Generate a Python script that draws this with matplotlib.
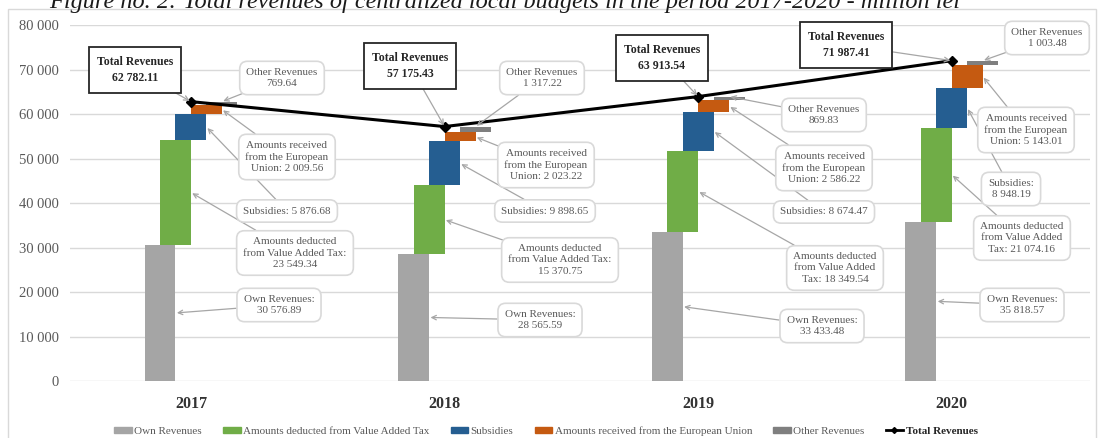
import numpy as np
import matplotlib.pyplot as plt
from matplotlib.patches import Rectangle, Patch
from matplotlib.lines import Line2D

plt.rcParams['font.family'] = ['Liberation Serif', 'DejaVu Serif']

# data (million lei)
years = ['2017', '2018', '2019', '2020']
own = [30576.89, 28565.59, 33433.48, 35818.57]
vat = [23549.34, 15370.75, 18349.54, 21074.16]
subsidies = [5876.68, 9898.65, 8674.47, 8948.19]
eu_funds = [2009.56, 2023.22, 2586.22, 5143.01]
other = [769.64, 1317.22, 869.83, 1003.48]
total = [62782.11, 57175.43, 63913.54, 71987.41]

series_names = ['Own Revenues', 'Amounts deducted from Value Added Tax', 'Subsidies',
                'Amounts received from the European Union', 'Other Revenues']
yticks = [0, 10000, 20000, 30000, 40000, 50000, 60000, 70000, 80000]

# label text templates (line breaks as in the original)
own_fmt = ['Own Revenues:\n{}'] * 4
vat_fmt = ['Amounts deducted\nfrom Value Added Tax:\n{}'] * 2 + ['Amounts deducted\nfrom Value Added\nTax: {}'] * 2
sub_fmt = ['Subsidies: {}'] * 3 + ['Subsidies:\n{}']
eu_fmt = ['Amounts received\nfrom the European\nUnion: {}'] * 4
oth_fmt = ['Other Revenues\n{}'] * 4

# label box centres, pixels from top-left
own_pos = [(279, 305), (540, 320), (822, 326), (1022, 305)]
vat_pos = [(295, 253), (560, 260), (835, 268), (1022, 238)]
sub_pos = [(287, 211), (545, 211), (824, 212), (1011, 189)]
eu_pos = [(287, 157), (546, 165), (824, 168), (1026, 130)]
oth_pos = [(282, 78), (542, 78), (824, 115), (1047, 38)]
tot_pos = [(135, 70), (410, 66), (662, 58), (846, 45)]

colors = ['#a5a5a5', '#70ad47', '#255e91', '#c55a11', '#7f7f7f']
txtcol = '#595959'
W, H = 1101, 438


def fmt(v):
    return f'{v:,.2f}'.replace(',', ' ')


fig = plt.figure(figsize=(W / 100, H / 100), dpi=100)
ax = fig.add_axes([70 / W, (H - 381) / H, 1020 / W, 356 / H])

x = np.arange(len(years))
bw = 0.122
offs = [-bw, -bw / 2, 0, bw / 2, bw]

segs = [own, vat, subsidies, eu_funds, other]
bottoms = np.zeros(len(years))
seg_bot = []
for k, s in enumerate(segs):
    s = np.array(s)
    ax.bar(x + offs[k], s, bw, bottom=bottoms, color=colors[k], zorder=2)
    seg_bot.append(bottoms.copy())
    bottoms = bottoms + s

ax.plot(x, total, color='black', lw=2.2, marker='D', ms=5, zorder=4)

ax.set_xlim(-0.477, 3.545)
ax.set_ylim(0, 80000)
ax.set_yticks(yticks)
ax.set_yticklabels([fmt(v)[:-3] for v in yticks], fontsize=10.5, color=txtcol)
ax.set_xticks(x)
ax.set_xticklabels(years, fontsize=11.5, fontweight='bold', color='#333333')
ax.tick_params(length=0, axis='both')
ax.tick_params(axis='y', pad=8)
ax.tick_params(axis='x', pad=11)
ax.grid(axis='y', color='#d9d9d9', lw=1, zorder=0)
for sp in ax.spines.values():
    sp.set_visible(False)

box = dict(boxstyle='round,pad=0.6,rounding_size=0.7', fc='white', ec='#d9d9d9', lw=1.2)
arr = dict(arrowstyle='->', color='#a6a6a6', lw=0.9, shrinkA=0, shrinkB=1)


def label(txt, xy, pos):
    ax.annotate(txt, xy=xy, xycoords='data', xytext=(pos[0], H - pos[1]),
                textcoords='figure pixels', ha='center', va='center',
                fontsize=8, color=txtcol, linespacing=1.3,
                bbox=box, arrowprops=arr, zorder=5)


for i in range(len(years)):
    for k, (tmpl, pos) in enumerate([(own_fmt, own_pos), (vat_fmt, vat_pos),
                                     (sub_fmt, sub_pos), (eu_fmt, eu_pos)]):
        val = segs[k][i]
        xy = (x[i] + offs[k] + bw / 2, seg_bot[k][i] + val / 2)
        label(tmpl[i].format(fmt(val)), xy, pos[i])
    label(oth_fmt[i].format(fmt(other[i])), (x[i] + offs[4], total[i]), oth_pos[i])
    ax.annotate('Total Revenues\n' + fmt(total[i]), xy=(x[i], total[i]), xycoords='data',
                xytext=(tot_pos[i][0], H - tot_pos[i][1]), textcoords='figure pixels',
                ha='center', va='center', fontsize=8.5, fontweight='bold', color='#262626',
                linespacing=1.5,
                bbox=dict(boxstyle='square,pad=0.7', fc='white', ec='#262626', lw=1.3),
                arrowprops=arr, zorder=5)

# legend
handles = [Patch(color=c) for c in colors]
handles.append(Line2D([], [], color='black', lw=2, marker='D', ms=3))
leg = fig.legend(handles, series_names + ['Total Revenues'], loc='center',
                 bbox_to_anchor=(546 / W, (H - 431) / H), ncol=6, frameon=False,
                 fontsize=8, handlelength=1.6, handleheight=0.5, handletextpad=0.2,
                 columnspacing=1.9)
for t in leg.get_texts():
    t.set_color(txtcol)
leg.get_texts()[-1].set_fontweight('bold')
leg.get_texts()[-1].set_color('#262626')

# chart frame and cropped caption
fig.patches.append(Rectangle((8 / W, -0.01), 1088 / W, (H - 9) / H + 0.01,
                             transform=fig.transFigure, fill=False, ec='#d9d9d9', lw=1))
fig.text(505 / W, 1 - 8 / H,
         'Figure no. 2: Total revenues of centralized local budgets in the period 2017-2020 - million lei',
         ha='center', va='baseline', fontsize=17.5, style='italic', color='#1a1a1a')

fig.savefig('out.png', dpi=100)
